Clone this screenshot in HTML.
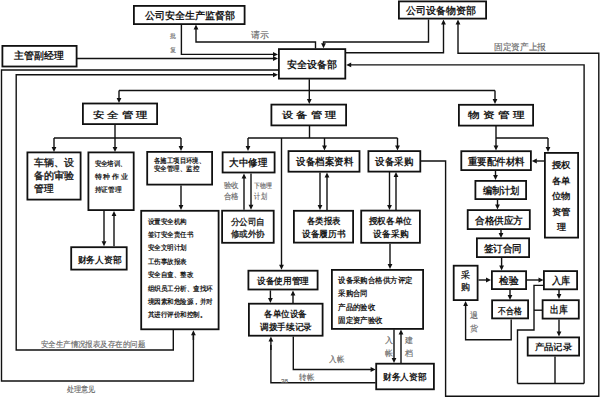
<!DOCTYPE html>
<html><head><meta charset="utf-8"><style>
html,body{margin:0;padding:0;background:#fff;width:600px;height:400px;overflow:hidden}
svg{display:block}
text{font-family:"Liberation Sans",sans-serif;dominant-baseline:central}
</style></head><body>
<svg width="600" height="400" viewBox="0 0 600 400">
<rect width="600" height="400" fill="#fff"/>
<polyline points="77,58.5 273.5,58.5" fill="none" stroke="#111" stroke-width="1.4" stroke-linejoin="miter"/>
<polygon points="278,58.5 273.00,60.90 273.00,56.10" fill="#111"/>
<polyline points="181.4,24.5 181.4,54.4 273.5,54.4" fill="none" stroke="#111" stroke-width="1.4" stroke-linejoin="miter"/>
<polygon points="278,54.4 273.00,56.80 273.00,52.00" fill="#111"/>
<polyline points="315.5,48.5 315.5,42 196,42 196.0,29.1" fill="none" stroke="#111" stroke-width="1.4" stroke-linejoin="miter"/>
<polygon points="196,24.6 198.40,29.60 193.60,29.60" fill="#111"/>
<polyline points="428.5,19.5 428.5,42 323.5,42 323.5,43.7" fill="none" stroke="#111" stroke-width="1.4" stroke-linejoin="miter"/>
<polygon points="323.5,48.2 321.10,43.20 325.90,43.20" fill="#111"/>
<polyline points="345.5,52.8 443.5,52.8 443.5,24.0" fill="none" stroke="#111" stroke-width="1.4" stroke-linejoin="miter"/>
<polygon points="443.5,19.5 445.90,24.50 441.10,24.50" fill="#111"/>
<polyline points="420.5,161 445.6,161 445.6,396.2 598.8,396.2 598.8,53.3 458,53.3 458.0,24.0" fill="none" stroke="#111" stroke-width="1.4" stroke-linejoin="miter"/>
<polygon points="458,19.5 460.40,24.50 455.60,24.50" fill="#111"/>
<polyline points="584.1,383.5 584.1,64.9 350.7,64.9" fill="none" stroke="#111" stroke-width="1.4" stroke-linejoin="miter"/>
<polygon points="346.2,64.9 351.20,62.50 351.20,67.30" fill="#111"/>
<polyline points="517.5,383.5 584.1,383.5" fill="none" stroke="#111" stroke-width="1.4" stroke-linejoin="miter"/>
<polyline points="517.5,383.5 517.5,330 534,330 534,285.4 543.5,285.4" fill="none" stroke="#111" stroke-width="1.4" stroke-linejoin="miter"/>
<polyline points="534,310.2 542,310.2" fill="none" stroke="#111" stroke-width="1.4" stroke-linejoin="miter"/>
<polyline points="555,356.5 555,383.5" fill="none" stroke="#111" stroke-width="1.4" stroke-linejoin="miter"/>
<polyline points="278,70 1.5,70 1.5,381 193.4,381 193.4,335" fill="none" stroke="#111" stroke-width="1.4" stroke-linejoin="miter"/>
<polyline points="193.4,340 193.4,334.7" fill="none" stroke="#111" stroke-width="1.4" stroke-linejoin="miter"/>
<polygon points="193.4,330.2 195.80,335.20 191.00,335.20" fill="#111"/>
<polyline points="173.3,329.5 173.3,350 16.2,350 16.2,74.8 273.5,74.8" fill="none" stroke="#111" stroke-width="1.4" stroke-linejoin="miter"/>
<polygon points="278,74.8 273.00,77.20 273.00,72.40" fill="#111"/>
<polyline points="309.3,79.3 309.3,90.5" fill="none" stroke="#111" stroke-width="1.4" stroke-linejoin="miter"/>
<polyline points="119,90.5 495,90.5" fill="none" stroke="#111" stroke-width="1.4" stroke-linejoin="miter"/>
<polyline points="119,90.5 119.0,98.5" fill="none" stroke="#111" stroke-width="1.4" stroke-linejoin="miter"/>
<polygon points="119,103 116.60,98.00 121.40,98.00" fill="#111"/>
<polyline points="309.3,90.5 309.3,99.5" fill="none" stroke="#111" stroke-width="1.4" stroke-linejoin="miter"/>
<polygon points="309.3,104 306.90,99.00 311.70,99.00" fill="#111"/>
<polyline points="495,90.5 495.0,99.5" fill="none" stroke="#111" stroke-width="1.4" stroke-linejoin="miter"/>
<polygon points="495,104 492.60,99.00 497.40,99.00" fill="#111"/>
<polyline points="115,125 115,138" fill="none" stroke="#111" stroke-width="1.4" stroke-linejoin="miter"/>
<polyline points="54,138 181,138" fill="none" stroke="#111" stroke-width="1.4" stroke-linejoin="miter"/>
<polyline points="54,138 54.0,147.5" fill="none" stroke="#111" stroke-width="1.4" stroke-linejoin="miter"/>
<polygon points="54,152 51.60,147.00 56.40,147.00" fill="#111"/>
<polyline points="115,138 115.0,147.5" fill="none" stroke="#111" stroke-width="1.4" stroke-linejoin="miter"/>
<polygon points="115,152 112.60,147.00 117.40,147.00" fill="#111"/>
<polyline points="181,138 181.0,146.5" fill="none" stroke="#111" stroke-width="1.4" stroke-linejoin="miter"/>
<polygon points="181,151 178.60,146.00 183.40,146.00" fill="#111"/>
<polyline points="309.5,126 309.5,138" fill="none" stroke="#111" stroke-width="1.4" stroke-linejoin="miter"/>
<polyline points="248,138 397.5,138" fill="none" stroke="#111" stroke-width="1.4" stroke-linejoin="miter"/>
<polyline points="248,138 248.0,146.5" fill="none" stroke="#111" stroke-width="1.4" stroke-linejoin="miter"/>
<polygon points="248,151 245.60,146.00 250.40,146.00" fill="#111"/>
<polyline points="324.5,138 324.5,146.0" fill="none" stroke="#111" stroke-width="1.4" stroke-linejoin="miter"/>
<polygon points="324.5,150.5 322.10,145.50 326.90,145.50" fill="#111"/>
<polyline points="397.5,138 397.5,146.0" fill="none" stroke="#111" stroke-width="1.4" stroke-linejoin="miter"/>
<polygon points="397.5,150.5 395.10,145.50 399.90,145.50" fill="#111"/>
<polyline points="281.5,138 281.5,265.3" fill="none" stroke="#111" stroke-width="1.4" stroke-linejoin="miter"/>
<polygon points="281.5,269.8 279.10,264.80 283.90,264.80" fill="#111"/>
<polyline points="496,126 496.0,146.0" fill="none" stroke="#111" stroke-width="1.4" stroke-linejoin="miter"/>
<polygon points="496,150.5 493.60,145.50 498.40,145.50" fill="#111"/>
<polyline points="496,138 548,138" fill="none" stroke="#111" stroke-width="1.4" stroke-linejoin="miter"/>
<polyline points="548,138 548.0,147.5" fill="none" stroke="#111" stroke-width="1.4" stroke-linejoin="miter"/>
<polygon points="548,152 545.60,147.00 550.40,147.00" fill="#111"/>
<polyline points="104,211 104.0,241.8" fill="none" stroke="#111" stroke-width="1.4" stroke-linejoin="miter"/>
<polygon points="104,246.3 101.60,241.30 106.40,241.30" fill="#111"/>
<polyline points="114,246.3 114.0,215.5" fill="none" stroke="#111" stroke-width="1.4" stroke-linejoin="miter"/>
<polygon points="114,211 116.40,216.00 111.60,216.00" fill="#111"/>
<polyline points="181,185.5 181.0,205.4" fill="none" stroke="#111" stroke-width="1.4" stroke-linejoin="miter"/>
<polygon points="181,209.9 178.60,204.90 183.40,204.90" fill="#111"/>
<polyline points="244,209.8 244.0,177.9" fill="none" stroke="#111" stroke-width="1.4" stroke-linejoin="miter"/>
<polygon points="244,173.4 246.40,178.40 241.60,178.40" fill="#111"/>
<polyline points="251,173.4 251.0,205.3" fill="none" stroke="#111" stroke-width="1.4" stroke-linejoin="miter"/>
<polygon points="251,209.8 248.60,204.80 253.40,204.80" fill="#111"/>
<polyline points="320,172.5 320.0,205.5" fill="none" stroke="#111" stroke-width="1.4" stroke-linejoin="miter"/>
<polygon points="320,210 317.60,205.00 322.40,205.00" fill="#111"/>
<polyline points="327,210 327.0,177.0" fill="none" stroke="#111" stroke-width="1.4" stroke-linejoin="miter"/>
<polygon points="327,172.5 329.40,177.50 324.60,177.50" fill="#111"/>
<polyline points="389.5,172 389.5,205.5" fill="none" stroke="#111" stroke-width="1.4" stroke-linejoin="miter"/>
<polygon points="389.5,210 387.10,205.00 391.90,205.00" fill="#111"/>
<polyline points="396,210 396.0,176.5" fill="none" stroke="#111" stroke-width="1.4" stroke-linejoin="miter"/>
<polygon points="396,172 398.40,177.00 393.60,177.00" fill="#111"/>
<polyline points="390,243.7 390.0,264.5" fill="none" stroke="#111" stroke-width="1.4" stroke-linejoin="miter"/>
<polygon points="390,269 387.60,264.00 392.40,264.00" fill="#111"/>
<polyline points="270.4,290.4 270.4,298.5" fill="none" stroke="#111" stroke-width="1.4" stroke-linejoin="miter"/>
<polygon points="270.4,303 268.00,298.00 272.80,298.00" fill="#111"/>
<polyline points="293,303 293.0,294.9" fill="none" stroke="#111" stroke-width="1.4" stroke-linejoin="miter"/>
<polygon points="293,290.4 295.40,295.40 290.60,295.40" fill="#111"/>
<polyline points="375.6,382.8 270.9,382.8 270.9,345" fill="none" stroke="#111" stroke-width="1.4" stroke-linejoin="miter"/>
<polyline points="270.9,350 270.9,340.9" fill="none" stroke="#111" stroke-width="1.4" stroke-linejoin="miter"/>
<polygon points="270.9,336.4 273.30,341.40 268.50,341.40" fill="#111"/>
<polyline points="293.3,336.4 293.3,369.5 371.1,369.5" fill="none" stroke="#111" stroke-width="1.4" stroke-linejoin="miter"/>
<polygon points="375.6,369.5 370.60,371.90 370.60,367.10" fill="#111"/>
<polyline points="394,329.5 394.0,358.5" fill="none" stroke="#111" stroke-width="1.4" stroke-linejoin="miter"/>
<polygon points="394,363 391.60,358.00 396.40,358.00" fill="#111"/>
<polyline points="401,363 401.0,334.0" fill="none" stroke="#111" stroke-width="1.4" stroke-linejoin="miter"/>
<polygon points="401,329.5 403.40,334.50 398.60,334.50" fill="#111"/>
<polyline points="495.5,171 495.5,175.5" fill="none" stroke="#111" stroke-width="1.4" stroke-linejoin="miter"/>
<polygon points="495.5,180 493.10,175.00 497.90,175.00" fill="#111"/>
<polyline points="497.5,199.5 497.5,205.0" fill="none" stroke="#111" stroke-width="1.4" stroke-linejoin="miter"/>
<polygon points="497.5,209.5 495.10,204.50 499.90,204.50" fill="#111"/>
<polyline points="501,229.5 501.0,233.5" fill="none" stroke="#111" stroke-width="1.4" stroke-linejoin="miter"/>
<polygon points="501,238 498.60,233.00 503.40,233.00" fill="#111"/>
<polyline points="501.6,257 501.6,266.0" fill="none" stroke="#111" stroke-width="1.4" stroke-linejoin="miter"/>
<polygon points="501.6,270.5 499.20,265.50 504.00,265.50" fill="#111"/>
<polyline points="544.5,161 536.3,161.0" fill="none" stroke="#111" stroke-width="1.4" stroke-linejoin="miter"/>
<polygon points="531.8,161 536.80,158.60 536.80,163.40" fill="#111"/>
<polyline points="478.5,280 486.5,280.0" fill="none" stroke="#111" stroke-width="1.4" stroke-linejoin="miter"/>
<polygon points="491,280 486.00,282.40 486.00,277.60" fill="#111"/>
<polyline points="526.5,280 539.0,280.0" fill="none" stroke="#111" stroke-width="1.4" stroke-linejoin="miter"/>
<polygon points="543.5,280 538.50,282.40 538.50,277.60" fill="#111"/>
<polyline points="510,290 510.0,295.5" fill="none" stroke="#111" stroke-width="1.4" stroke-linejoin="miter"/>
<polygon points="510,300 507.60,295.00 512.40,295.00" fill="#111"/>
<polyline points="559,290 559.0,294.5" fill="none" stroke="#111" stroke-width="1.4" stroke-linejoin="miter"/>
<polygon points="559,299 556.60,294.00 561.40,294.00" fill="#111"/>
<polyline points="559,319.5 559.0,332.0" fill="none" stroke="#111" stroke-width="1.4" stroke-linejoin="miter"/>
<polygon points="559,336.5 556.60,331.50 561.40,331.50" fill="#111"/>
<polyline points="511.2,319.5 511.2,339.8 465.6,339.8 465.6,305.5" fill="none" stroke="#111" stroke-width="1.4" stroke-linejoin="miter"/>
<polygon points="465.6,301 468.00,306.00 463.20,306.00" fill="#111"/>
<rect x="133.90" y="5.90" width="110.70" height="18.20" fill="#fff" stroke="#111" stroke-width="1.8"/>
<text x="144.50" y="15.00" font-size="10" font-weight="bold" fill="#1a1a1a" textLength="90.50" lengthAdjust="spacingAndGlyphs">公司安全生产监督部</text>
<rect x="398.90" y="1.40" width="87.20" height="17.20" fill="#fff" stroke="#111" stroke-width="1.8"/>
<text x="406.00" y="10.50" font-size="10" font-weight="bold" fill="#1a1a1a" textLength="70.00" lengthAdjust="spacingAndGlyphs">公司设备物资部</text>
<rect x="2.40" y="45.90" width="74.20" height="20.60" fill="#fff" stroke="#111" stroke-width="1.8"/>
<text x="14.20" y="55.70" font-size="10" font-weight="bold" fill="#1a1a1a" textLength="49.50" lengthAdjust="spacingAndGlyphs">主管副经理</text>
<rect x="278.90" y="49.10" width="66.40" height="29.50" fill="#fff" stroke="#111" stroke-width="1.8"/>
<text x="287.00" y="64.50" font-size="10" font-weight="bold" fill="#1a1a1a" textLength="50.00" lengthAdjust="spacingAndGlyphs">安全设备部</text>
<rect x="82.90" y="103.50" width="74.20" height="20.60" fill="#fff" stroke="#111" stroke-width="1.8"/>
<text x="93.00" y="114.50" font-size="8.8" font-weight="bold" fill="#1a1a1a" textLength="54.70" lengthAdjust="spacingAndGlyphs">安 全 管 理</text>
<rect x="271.40" y="104.60" width="74.70" height="20.80" fill="#fff" stroke="#111" stroke-width="1.8"/>
<text x="282.00" y="115.00" font-size="8.8" font-weight="bold" fill="#1a1a1a" textLength="54.00" lengthAdjust="spacingAndGlyphs">设 备 管 理</text>
<rect x="458.90" y="104.80" width="74.20" height="20.80" fill="#fff" stroke="#111" stroke-width="1.8"/>
<text x="468.20" y="115.00" font-size="8.8" font-weight="bold" fill="#1a1a1a" textLength="56.00" lengthAdjust="spacingAndGlyphs">物 资 管 理</text>
<rect x="27.40" y="152.40" width="53.20" height="47.20" fill="#fff" stroke="#111" stroke-width="1.8"/>
<text x="34.00" y="162.50" font-size="9.8" font-weight="normal" fill="#1a1a1a" stroke="#1a1a1a" stroke-width="0.35" textLength="40.40" lengthAdjust="spacingAndGlyphs">车辆、设</text>
<text x="34.00" y="175.00" font-size="9.8" font-weight="normal" fill="#1a1a1a" stroke="#1a1a1a" stroke-width="0.35" textLength="40.40" lengthAdjust="spacingAndGlyphs">备的审验</text>
<text x="34.00" y="188.00" font-size="9.8" font-weight="normal" fill="#1a1a1a" stroke="#1a1a1a" stroke-width="0.35" textLength="19.50" lengthAdjust="spacingAndGlyphs">管理</text>
<rect x="88.40" y="152.40" width="45.30" height="57.70" fill="#fff" stroke="#111" stroke-width="1.8"/>
<text x="94.50" y="163.60" font-size="7" font-weight="bold" fill="#1a1a1a" textLength="32.30" lengthAdjust="spacingAndGlyphs">安全培训、</text>
<text x="94.50" y="176.80" font-size="7" font-weight="bold" fill="#1a1a1a" textLength="33.50" lengthAdjust="spacingAndGlyphs">特 种 作 业</text>
<text x="94.50" y="189.40" font-size="7" font-weight="bold" fill="#1a1a1a" textLength="27.00" lengthAdjust="spacingAndGlyphs">持证管理</text>
<rect x="147.20" y="151.90" width="64.90" height="32.70" fill="#fff" stroke="#111" stroke-width="1.8"/>
<text x="154.00" y="160.30" font-size="7.2" font-weight="bold" fill="#1a1a1a" textLength="51.00" lengthAdjust="spacingAndGlyphs">各施工项目环境、</text>
<text x="154.00" y="168.90" font-size="7.2" font-weight="bold" fill="#1a1a1a" textLength="45.30" lengthAdjust="spacingAndGlyphs">安全管理、监控</text>
<rect x="222.60" y="152.30" width="52.00" height="20.20" fill="#fff" stroke="#111" stroke-width="1.8"/>
<text x="229.00" y="162.00" font-size="10" font-weight="bold" fill="#1a1a1a" textLength="38.00" lengthAdjust="spacingAndGlyphs">大中修理</text>
<rect x="288.50" y="151.10" width="71.00" height="20.60" fill="#fff" stroke="#111" stroke-width="1.8"/>
<text x="296.00" y="161.50" font-size="9.5" font-weight="bold" fill="#1a1a1a" textLength="57.00" lengthAdjust="spacingAndGlyphs">设备档案资料</text>
<rect x="368.40" y="151.10" width="51.90" height="20.50" fill="#fff" stroke="#111" stroke-width="1.8"/>
<text x="375.00" y="161.00" font-size="9.5" font-weight="bold" fill="#1a1a1a" textLength="38.00" lengthAdjust="spacingAndGlyphs">设备采购</text>
<rect x="461.30" y="151.20" width="69.60" height="18.90" fill="#fff" stroke="#111" stroke-width="1.8"/>
<text x="467.50" y="161.00" font-size="9.5" font-weight="bold" fill="#1a1a1a" textLength="57.00" lengthAdjust="spacingAndGlyphs">重要配件材料</text>
<rect x="544.90" y="152.90" width="33.20" height="84.70" fill="#fff" stroke="#111" stroke-width="1.8"/>
<text x="552.00" y="165.30" font-size="9.3" font-weight="bold" fill="#1a1a1a" textLength="18.70" lengthAdjust="spacingAndGlyphs">授权</text>
<text x="552.00" y="180.70" font-size="9.3" font-weight="bold" fill="#1a1a1a" textLength="18.70" lengthAdjust="spacingAndGlyphs">各单</text>
<text x="552.00" y="196.30" font-size="9.3" font-weight="bold" fill="#1a1a1a" textLength="18.70" lengthAdjust="spacingAndGlyphs">位物</text>
<text x="552.00" y="212.00" font-size="9.3" font-weight="bold" fill="#1a1a1a" textLength="18.70" lengthAdjust="spacingAndGlyphs">资管</text>
<text x="556.80" y="227.40" font-size="9.3" font-weight="bold" fill="#1a1a1a" textLength="9.10" lengthAdjust="spacingAndGlyphs">理</text>
<rect x="475.40" y="180.90" width="50.70" height="18.20" fill="#fff" stroke="#111" stroke-width="1.8"/>
<text x="482.50" y="190.00" font-size="9.5" font-weight="bold" fill="#1a1a1a" textLength="37.00" lengthAdjust="spacingAndGlyphs">编制计划</text>
<rect x="467.70" y="210.10" width="62.10" height="19.00" fill="#fff" stroke="#111" stroke-width="1.8"/>
<text x="475.00" y="220.00" font-size="9.5" font-weight="bold" fill="#1a1a1a" textLength="48.00" lengthAdjust="spacingAndGlyphs">合格供应方</text>
<rect x="71.20" y="247.20" width="55.50" height="22.40" fill="#fff" stroke="#111" stroke-width="1.8"/>
<text x="77.50" y="260.00" font-size="9.2" font-weight="bold" fill="#1a1a1a" textLength="43.80" lengthAdjust="spacingAndGlyphs">财务人资部</text>
<rect x="141.20" y="210.80" width="77.40" height="118.50" fill="#fff" stroke="#111" stroke-width="1.8"/>
<text x="147.50" y="221.10" font-size="7.2" font-weight="bold" fill="#1a1a1a" textLength="39.00" lengthAdjust="spacingAndGlyphs">设置安全机构</text>
<text x="147.50" y="234.35" font-size="7.2" font-weight="bold" fill="#1a1a1a" textLength="45.60" lengthAdjust="spacingAndGlyphs">签订安全责任书</text>
<text x="147.50" y="247.60" font-size="7.2" font-weight="bold" fill="#1a1a1a" textLength="39.00" lengthAdjust="spacingAndGlyphs">安全文明计划</text>
<text x="147.50" y="261.10" font-size="7.2" font-weight="bold" fill="#1a1a1a" textLength="39.00" lengthAdjust="spacingAndGlyphs">工伤事故报表</text>
<text x="147.50" y="274.60" font-size="7.2" font-weight="bold" fill="#1a1a1a" textLength="45.60" lengthAdjust="spacingAndGlyphs">安全自查、整改</text>
<text x="147.50" y="288.10" font-size="7.2" font-weight="bold" fill="#1a1a1a" textLength="65.40" lengthAdjust="spacingAndGlyphs">组织员工分析、查找环</text>
<text x="147.50" y="301.60" font-size="7.2" font-weight="bold" fill="#1a1a1a" textLength="65.40" lengthAdjust="spacingAndGlyphs">境因素和危险源，并对</text>
<text x="147.50" y="314.60" font-size="7.2" font-weight="bold" fill="#1a1a1a" textLength="58.80" lengthAdjust="spacingAndGlyphs">其进行评价和控制。</text>
<rect x="222.10" y="210.70" width="51.60" height="32.10" fill="#fff" stroke="#111" stroke-width="1.8"/>
<text x="230.60" y="221.70" font-size="8.8" font-weight="normal" fill="#1a1a1a" stroke="#1a1a1a" stroke-width="0.3" textLength="34.40" lengthAdjust="spacingAndGlyphs">分公司自</text>
<text x="230.60" y="234.20" font-size="8.8" font-weight="normal" fill="#1a1a1a" stroke="#1a1a1a" stroke-width="0.3" textLength="34.40" lengthAdjust="spacingAndGlyphs">修或外协</text>
<rect x="293.90" y="210.80" width="59.20" height="31.80" fill="#fff" stroke="#111" stroke-width="1.8"/>
<text x="307.00" y="221.00" font-size="9.2" font-weight="bold" fill="#1a1a1a" textLength="33.50" lengthAdjust="spacingAndGlyphs">各类报表</text>
<text x="302.00" y="234.00" font-size="9.2" font-weight="bold" fill="#1a1a1a" textLength="43.50" lengthAdjust="spacingAndGlyphs">设备履历书</text>
<rect x="361.20" y="210.60" width="58.70" height="32.20" fill="#fff" stroke="#111" stroke-width="1.8"/>
<text x="368.70" y="220.80" font-size="9.2" font-weight="bold" fill="#1a1a1a" textLength="43.30" lengthAdjust="spacingAndGlyphs">授权各单位</text>
<text x="373.30" y="234.20" font-size="9.2" font-weight="bold" fill="#1a1a1a" textLength="35.00" lengthAdjust="spacingAndGlyphs">设备采购</text>
<rect x="248.40" y="270.70" width="69.20" height="18.80" fill="#fff" stroke="#111" stroke-width="1.8"/>
<text x="257.00" y="281.00" font-size="9.2" font-weight="bold" fill="#1a1a1a" textLength="52.00" lengthAdjust="spacingAndGlyphs">设备使用管理</text>
<rect x="248.90" y="303.70" width="73.70" height="32.00" fill="#fff" stroke="#111" stroke-width="1.8"/>
<text x="264.00" y="314.00" font-size="9.3" font-weight="bold" fill="#1a1a1a" textLength="42.70" lengthAdjust="spacingAndGlyphs">各单位设备</text>
<text x="260.20" y="326.80" font-size="9.3" font-weight="bold" fill="#1a1a1a" textLength="51.80" lengthAdjust="spacingAndGlyphs">调拨手续记录</text>
<rect x="331.90" y="269.90" width="91.20" height="59.00" fill="#fff" stroke="#111" stroke-width="1.8"/>
<text x="338.20" y="280.50" font-size="7.8" font-weight="bold" fill="#1a1a1a" textLength="74.20" lengthAdjust="spacingAndGlyphs">设备采购合格供方评定</text>
<text x="338.20" y="293.80" font-size="7.8" font-weight="bold" fill="#1a1a1a" textLength="29.38" lengthAdjust="spacingAndGlyphs">采购合同</text>
<text x="338.20" y="307.10" font-size="7.8" font-weight="bold" fill="#1a1a1a" textLength="36.85" lengthAdjust="spacingAndGlyphs">产品的验收</text>
<text x="338.20" y="320.20" font-size="7.8" font-weight="bold" fill="#1a1a1a" textLength="44.32" lengthAdjust="spacingAndGlyphs">固定资产验收</text>
<rect x="376.20" y="363.70" width="57.70" height="25.60" fill="#fff" stroke="#111" stroke-width="1.8"/>
<text x="383.00" y="376.70" font-size="9.2" font-weight="bold" fill="#1a1a1a" textLength="43.40" lengthAdjust="spacingAndGlyphs">财务人资部</text>
<rect x="476.90" y="238.30" width="52.20" height="18.80" fill="#fff" stroke="#111" stroke-width="1.8"/>
<text x="483.90" y="248.00" font-size="10" font-weight="bold" fill="#1a1a1a" textLength="37.80" lengthAdjust="spacingAndGlyphs">签订合同</text>
<rect x="453.70" y="265.70" width="23.90" height="34.40" fill="#fff" stroke="#111" stroke-width="1.8"/>
<rect x="491.90" y="271.20" width="34.20" height="17.90" fill="#fff" stroke="#111" stroke-width="1.8"/>
<text x="499.00" y="280.50" font-size="10" font-weight="bold" fill="#1a1a1a" textLength="19.50" lengthAdjust="spacingAndGlyphs">检验</text>
<rect x="543.90" y="271.10" width="33.20" height="18.20" fill="#fff" stroke="#111" stroke-width="1.8"/>
<text x="551.70" y="280.50" font-size="10" font-weight="bold" fill="#1a1a1a" textLength="18.00" lengthAdjust="spacingAndGlyphs">入库</text>
<rect x="492.10" y="300.30" width="36.00" height="18.10" fill="#fff" stroke="#111" stroke-width="1.8"/>
<text x="498.20" y="310.50" font-size="9" font-weight="bold" fill="#1a1a1a" textLength="23.60" lengthAdjust="spacingAndGlyphs">不合格</text>
<rect x="542.60" y="300.20" width="36.20" height="18.40" fill="#fff" stroke="#111" stroke-width="1.8"/>
<text x="549.90" y="309.50" font-size="10" font-weight="bold" fill="#1a1a1a" textLength="17.50" lengthAdjust="spacingAndGlyphs">出库</text>
<rect x="527.70" y="337.40" width="51.40" height="18.20" fill="#fff" stroke="#111" stroke-width="1.8"/>
<text x="534.70" y="346.80" font-size="9" font-weight="bold" fill="#1a1a1a" textLength="37.30" lengthAdjust="spacingAndGlyphs">产品记录</text>
<text x="465.50" y="275.20" font-size="9" font-weight="normal" fill="#1a1a1a" stroke="#1a1a1a" stroke-width="0.3" text-anchor="middle">采</text>
<text x="465.50" y="287.00" font-size="9" font-weight="normal" fill="#1a1a1a" stroke="#1a1a1a" stroke-width="0.3" text-anchor="middle">购</text>
<text x="170.00" y="36.00" font-size="5.5" font-weight="normal" fill="#6a6a6a" stroke="#6a6a6a" stroke-width="0.15">批</text>
<text x="170.00" y="50.40" font-size="5.5" font-weight="normal" fill="#6a6a6a" stroke="#6a6a6a" stroke-width="0.15">复</text>
<text x="251.00" y="35.00" font-size="8.5" font-weight="normal" fill="#6a6a6a" stroke="#6a6a6a" stroke-width="0.15" textLength="18.00" lengthAdjust="spacingAndGlyphs">请示</text>
<text x="494.00" y="46.80" font-size="8.5" font-weight="normal" fill="#6a6a6a" stroke="#6a6a6a" stroke-width="0.15" textLength="52.00" lengthAdjust="spacingAndGlyphs">固定资产上报</text>
<text x="223.80" y="185.20" font-size="8" font-weight="normal" fill="#6a6a6a" stroke="#6a6a6a" stroke-width="0.15" textLength="14.90" lengthAdjust="spacingAndGlyphs">验收</text>
<text x="223.80" y="196.90" font-size="8" font-weight="normal" fill="#6a6a6a" stroke="#6a6a6a" stroke-width="0.15" textLength="14.90" lengthAdjust="spacingAndGlyphs">合格</text>
<text x="254.40" y="185.20" font-size="7" font-weight="normal" fill="#6a6a6a" stroke="#6a6a6a" stroke-width="0.15" textLength="17.60" lengthAdjust="spacingAndGlyphs">下物理</text>
<text x="254.40" y="196.90" font-size="8" font-weight="normal" fill="#6a6a6a" stroke="#6a6a6a" stroke-width="0.15" textLength="12.30" lengthAdjust="spacingAndGlyphs">计划</text>
<text x="40.70" y="344.60" font-size="7.5" font-weight="normal" fill="#6a6a6a" stroke="#6a6a6a" stroke-width="0.15" textLength="104.50" lengthAdjust="spacingAndGlyphs">安全生产情况报表及存在的问题</text>
<text x="66.80" y="389.30" font-size="7.5" font-weight="normal" fill="#6a6a6a" stroke="#6a6a6a" stroke-width="0.15" textLength="28.50" lengthAdjust="spacingAndGlyphs">处理意见</text>
<text x="329.00" y="359.00" font-size="7.5" font-weight="normal" fill="#6a6a6a" stroke="#6a6a6a" stroke-width="0.15" textLength="15.00" lengthAdjust="spacingAndGlyphs">入帐</text>
<text x="299.40" y="377.50" font-size="7.5" font-weight="normal" fill="#6a6a6a" stroke="#6a6a6a" stroke-width="0.15" textLength="14.90" lengthAdjust="spacingAndGlyphs">转帐</text>
<text x="281.00" y="380.50" font-size="6" font-weight="normal" fill="#6a6a6a" stroke="#6a6a6a" stroke-width="0.15" textLength="7.00" lengthAdjust="spacingAndGlyphs">38</text>
<text x="384.50" y="340.00" font-size="7.5" font-weight="normal" fill="#6a6a6a" stroke="#6a6a6a" stroke-width="0.15">入</text>
<text x="384.50" y="353.00" font-size="7.5" font-weight="normal" fill="#6a6a6a" stroke="#6a6a6a" stroke-width="0.15">帐</text>
<text x="404.50" y="340.00" font-size="7.5" font-weight="normal" fill="#6a6a6a" stroke="#6a6a6a" stroke-width="0.15">建</text>
<text x="404.50" y="353.00" font-size="7.5" font-weight="normal" fill="#6a6a6a" stroke="#6a6a6a" stroke-width="0.15">档</text>
<text x="469.50" y="315.00" font-size="7.5" font-weight="normal" fill="#6a6a6a" stroke="#6a6a6a" stroke-width="0.15">退</text>
<text x="469.50" y="328.70" font-size="7.5" font-weight="normal" fill="#6a6a6a" stroke="#6a6a6a" stroke-width="0.15">货</text>
</svg>
</body></html>
